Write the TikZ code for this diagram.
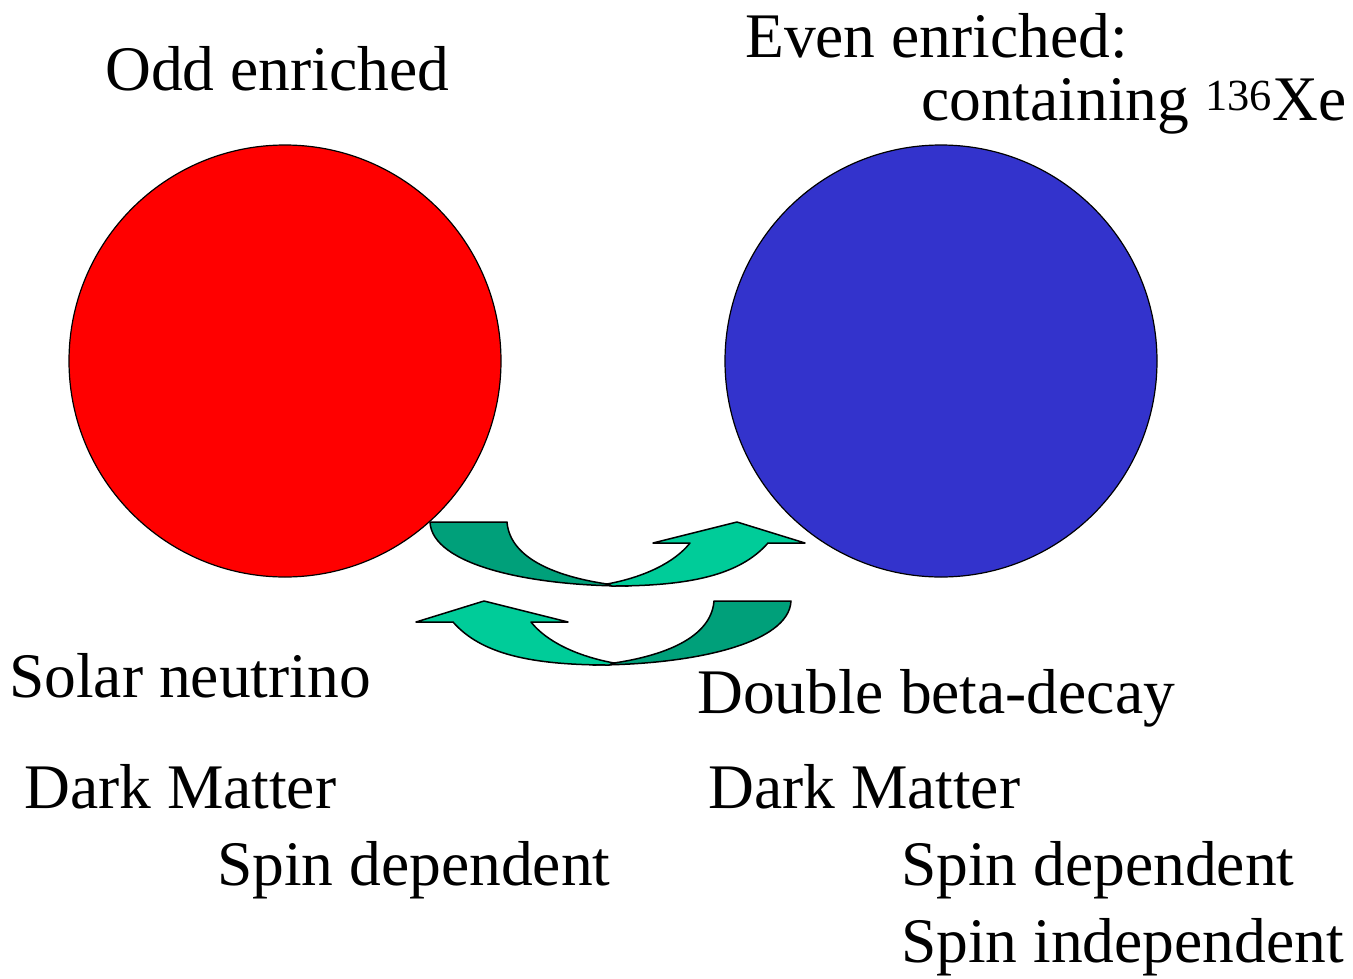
\documentclass[tikz,border=0pt]{standalone}
\usepackage{fontspec}
\setmainfont{Liberation Serif}
\definecolor{arrdark}{RGB}{0,160,122}
\definecolor{arrlight}{RGB}{0,204,153}
\definecolor{blueball}{RGB}{51,51,204}
\tikzset{
  lbl/.style={anchor=base west, inner sep=0pt, font=\fontsize{63.5}{76}\selectfont},
  ball/.style={circle, draw=black, line width=1.2pt, minimum size=432pt, inner sep=0pt},
  arrpart/.style={draw=black, line width=1.5pt, line join=round}
}
\begin{document}
\begin{tikzpicture}[x=1pt,y=-1pt]
\useasboundingbox (0,0) rectangle (1353,978);
\node[ball, fill=red] (odd) at (285,361) {};
\node[ball, fill=blueball] (even) at (941,361) {};
% upper curved arrow (odd -> even)
\begin{scope}
\path[arrpart, fill=arrdark] (430,522) -- (507,522)
  .. controls (510,560) and (560,577) .. (607,584)
  -- (628,586)
  .. controls (530,586) and (432,565) .. (430,522) -- cycle;
\path[arrpart, fill=arrlight] (607,584)
  .. controls (645,577) and (675,562) .. (690,543)
  -- (653,543) -- (737,522) -- (805,543) -- (768,543)
  .. controls (740,575) and (690,586) .. (612,586) -- cycle;
\end{scope}
% lower curved arrow (even -> odd), mirror image
\begin{scope}[shift={(1221,79)}, xscale=-1]
\path[arrpart, fill=arrdark] (430,522) -- (507,522)
  .. controls (510,560) and (560,577) .. (607,584)
  -- (628,586)
  .. controls (530,586) and (432,565) .. (430,522) -- cycle;
\path[arrpart, fill=arrlight] (607,584)
  .. controls (645,577) and (675,562) .. (690,543)
  -- (653,543) -- (737,522) -- (805,543) -- (768,543)
  .. controls (740,575) and (690,586) .. (612,586) -- cycle;
\end{scope}
% labels
\node[lbl] (toddl) at (105,90) {Odd enriched};
\node[lbl] (teven) at (745,57) {Even enriched:};
\node[lbl] (tcont) at (921,120) {containing \textsuperscript{136}Xe};
\node[lbl] (tsolar) at (9,697) {Solar neutrino};
\node[lbl] (tdbd) at (697,713) {Double beta-decay};
\node[lbl] (tdml) at (24,808) {Dark Matter};
\node[lbl] (tdmr) at (708,808) {Dark Matter};
\node[lbl] (tsdl) at (217,885) {Spin dependent};
\node[lbl] (tsdr) at (901,885) {Spin dependent};
\node[lbl] (tsir) at (901,962) {Spin independent};
\end{tikzpicture}
\end{document}
